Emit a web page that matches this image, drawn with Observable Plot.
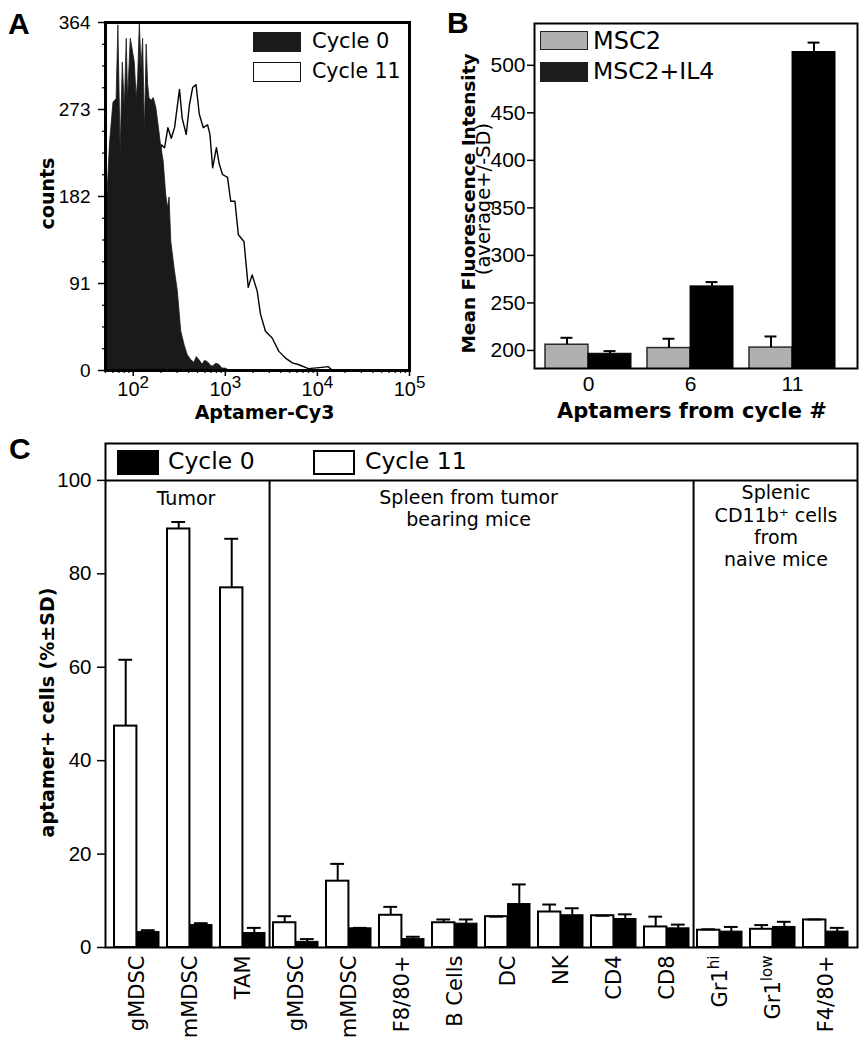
<!DOCTYPE html>
<html><head><meta charset="utf-8">
<script src="https://cdn.jsdelivr.net/npm/d3@7"></script>
<script src="https://cdn.jsdelivr.net/npm/@observablehq/plot@0.6"></script>
<style>
body{margin:0;background:#fff}
#fig{position:relative;width:867px;height:1050px;overflow:hidden;font-family:"DejaVu Sans","Liberation Sans",sans-serif;color:#000;background:#fff}
.letter{position:absolute;font-weight:bold;font-size:30px;line-height:30px;font-family:"Liberation Sans",Arial,sans-serif}
.lt{position:absolute;white-space:nowrap}
.sw{position:absolute;box-sizing:border-box}
</style></head>
<body><div id="fig"></div>
<script>
// ---------------- Panel A: flow histogram ----------------
const histX0 = [50,52,56,61,66,69,73,77,81,85,88,94,98,104,109,113,118,123,128,134,140,145,150,158,167,178,190,202,214,228,238,248,259,281,305,332,360,391,425,461,490,522,567,600,642,700,728,800,859,930,1012,1100];
const histN0 = [215,175,238,280,284,361,228,322,274,347,284,347,337,322,284,305,364,315,347,249,341,300,285,282,285,275,254,233,219,184,170,181,135,107,83,41,27,16,11,8,14,11,6,10,9,5,4,7,6,2,2,0];
const histX11 = [50,66,100,139,178,202,219,238,259,281,318,340,376,408,442,481,522,576,642,681,728,801,859,933,1056,1145,1272,1386,1594,1774,1956,2220,2410,2729,3227,3816,4512,5337,6311,8000,10500,13150,14180,21450];
const histN11 = [10,30,80,140,190,236,233,254,243,254,294,264,247,278,296,299,268,254,257,247,212,233,216,205,202,177,177,142,135,87,100,83,59,41,34,20,13,8,6,2,3,4,1,0];
const countTicksA = [0, 91, 182, 273, 364];
const countMinorA = [22.75,45.5,68.25,113.75,136.5,159.25,204.75,227.5,250.25,295.75,318.5,341.25];
const xMajorA = [100, 1000, 10000, 100000];
const xMinorA = [50,60,70,80,90,200,300,400,500,600,700,800,900,2000,3000,4000,5000,6000,7000,8000,9000,20000,30000,40000,50000,60000,70000,80000,90000];

// ---------------- Panel B: MFI bars ----------------
const cyclesB = ["0", "6", "11"];
const msc2Mean = [206, 202.5, 203];
const msc2SD = [7.3, 9.8, 11.7];
const il4Mean = [196.5, 267.4, 514];
const il4SD = [2.8, 4.5, 9.9];
const yTicksB = [200, 250, 300, 350, 400, 450, 500];

// ---------------- Panel C: aptamer+ cells ----------------
const cellTypes = ["gMDSC","mMDSC","TAM","gMDSC","mMDSC","F8/80+","B Cells","DC","NK","CD4","CD8","Gr1hi","Gr1low","F4/80+"];
const cycle11Pct = [47.4, 89.6, 77.0, 5.3, 14.2, 6.9, 5.3, 6.6, 7.6, 6.8, 4.4, 3.7, 3.9, 5.9];
const cycle11SD  = [14.2, 1.5, 10.5, 1.4, 3.7, 1.8, 0.7, 0.0, 1.6, 0.0, 2.2, 0.2, 0.9, 0.1];
const cycle0Pct  = [3.3, 4.8, 3.1, 1.2, 4.1, 1.8, 5.1, 9.3, 6.9, 6.1, 4.1, 3.4, 4.4, 3.4];
const cycle0SD   = [0.4, 0.4, 1.1, 0.6, 0.1, 0.5, 0.9, 4.2, 1.5, 1.0, 0.8, 1.0, 1.1, 0.8];
const sectionNames = ["Tumor", "Spleen from tumor\nbearing mice", "Splenic\nCD11b\u207A cells\nfrom\nnaive mice"];
const sectionSizes = [3, 8, 3];
const yTicksC = [0, 20, 40, 60, 80, 100];

const fig = document.getElementById("fig");
const SVGNS = "http://www.w3.org/2000/svg";
const NUM = "Liberation Sans, Arial, sans-serif";
const WORD = "DejaVu Sans, Liberation Sans, sans-serif";

function place(el, left, top) {
  el.style.position = "absolute";
  el.style.left = left + "px";
  el.style.top = top + "px";
  fig.appendChild(el);
}
function addText(txt, left, cy, size) {
  const d = document.createElement("div");
  d.className = "lt";
  d.textContent = txt;
  d.style.fontSize = size + "px";
  d.style.lineHeight = size + "px";
  d.style.left = left + "px";
  d.style.top = (cy - size * 0.52) + "px";
  fig.appendChild(d);
}
function addSwatch(left, top, w, h, fill, border) {
  const d = document.createElement("div");
  d.className = "sw";
  Object.assign(d.style, {left: left + "px", top: top + "px", width: w + "px", height: h + "px", background: fill, border: border || "none"});
  fig.appendChild(d);
}
function addLetter(ch, left, top) {
  const d = document.createElement("div");
  d.className = "letter";
  d.textContent = ch;
  d.style.left = left + "px";
  d.style.top = top + "px";
  fig.appendChild(d);
}
function styleTicks(svg, axis, size, family) {
  svg.querySelectorAll(`g[aria-label="${axis}-axis tick label"]`).forEach(g => {
    g.setAttribute("font-size", size);
    g.setAttribute("font-family", family);
    g.querySelectorAll("text").forEach(t => { t.removeAttribute("font-size"); t.style.fontSize = size + "px"; t.style.fontFamily = family; });
  });
}
function supTicks(svg, re, size, dy) {
  svg.querySelectorAll("text").forEach(t => {
    if (t.children.length) return;
    const m = t.textContent.match(re);
    if (!m) return;
    t.textContent = m[1];
    const ts = document.createElementNS(SVGNS, "tspan");
    ts.setAttribute("dy", dy);
    ts.setAttribute("font-size", size);
    ts.style.fontSize = size + "px";
    ts.textContent = m[2];
    t.appendChild(ts);
  });
}

// ===== Panel A =====
const c0 = histX0.map((x, i) => ({x, n: histN0[i]}));
const c11 = histX11.map((x, i) => ({x, n: histN11[i]}));
const plotA = Plot.plot({
  width: 430, height: 425,
  marginLeft: 105, marginRight: 21, marginTop: 22, marginBottom: 55,
  x: {type: "log", domain: [50, 100000]},
  y: {domain: [0, 364]},
  style: {background: "transparent", fontFamily: NUM, fontSize: "19px", color: "black", overflow: "visible"},
  marks: [
    Plot.areaY(c11, {x: "x", y: "n", fill: "white"}),
    Plot.lineY(c11, {x: "x", y: "n", stroke: "black", strokeWidth: 1.4}),
    Plot.areaY(c0, {x: "x", y: "n", fill: "#1a1a1a", stroke: "#1a1a1a", strokeWidth: 0.8}),
    Plot.frame({stroke: "black", strokeWidth: 3}),
    Plot.axisY({ticks: countTicksA, tickSize: 7, tickPadding: 8, strokeWidth: 1.5, label: null}),
    Plot.axisY({ticks: countMinorA, tickSize: 3, strokeWidth: 1.2, tickFormat: () => "", label: null}),
    Plot.axisX({ticks: xMajorA, tickSize: 6, tickPadding: 5, strokeWidth: 1.5, label: null,
      tickFormat: d => "10^" + Math.round(Math.log10(d))}),
    Plot.axisX({ticks: xMinorA, tickSize: 3, strokeWidth: 1.2, tickFormat: () => "", label: null}),
    Plot.text(["counts"], {text: d => d, frameAnchor: "left", textAnchor: "middle", lineAnchor: "middle", dx: -58, dy: -3, rotate: -90, fontWeight: "bold", fontSize: 19, fontFamily: WORD}),
    Plot.text(["Aptamer-Cy3"], {text: d => d, frameAnchor: "bottom", textAnchor: "middle", lineAnchor: "middle", dx: 7, dy: 42.5, fontWeight: "bold", fontSize: 19, fontFamily: WORD})
  ]
});
styleTicks(plotA, "y", 19, NUM);
styleTicks(plotA, "x", 20, NUM);
supTicks(plotA, /^(10)\^(\d)$/, 17, "-0.45em");
place(plotA, 0, 0);

// ===== Panel B =====
const rowsB = cyclesB.map((g, i) => ({g, m: msc2Mean[i], ms: msc2SD[i], l: il4Mean[i], ls: il4SD[i]}));
const bandB = d3.scaleBand().domain(cyclesB).range([104, 427]).paddingInner(0.16).paddingOuter(0.156).align(0.33);
const bwB = bandB.bandwidth();
const plotB = Plot.plot({
  width: 437, height: 425,
  marginLeft: 104, marginRight: 10, marginTop: 23, marginBottom: 57,
  x: {type: "band", domain: cyclesB, paddingInner: 0.16, paddingOuter: 0.156, align: 0.33},
  y: {domain: [181, 544]},
  style: {background: "transparent", fontFamily: NUM, fontSize: "21px", color: "black", overflow: "visible"},
  marks: [
    Plot.barY(rowsB, {x: "g", y: "m", fill: "#b0b0b0", stroke: "#2a2a2a", strokeWidth: 1.5, insetRight: bwB / 2, clip: true}),
    Plot.barY(rowsB, {x: "g", y: "l", fill: "black", stroke: "black", strokeWidth: 1, insetLeft: bwB / 2, clip: true}),
    Plot.ruleX(rowsB, {x: "g", y1: "m", y2: d => d.m + d.ms, dx: -bwB / 4, strokeWidth: 2}),
    Plot.tickY(rowsB, {x: "g", y: d => d.m + d.ms, dx: -bwB / 4, insetLeft: bwB / 2 - 6, insetRight: bwB / 2 - 6, strokeWidth: 2}),
    Plot.ruleX(rowsB, {x: "g", y1: "l", y2: d => d.l + d.ls, dx: bwB / 4, strokeWidth: 2}),
    Plot.tickY(rowsB, {x: "g", y: d => d.l + d.ls, dx: bwB / 4, insetLeft: bwB / 2 - 6, insetRight: bwB / 2 - 6, strokeWidth: 2}),
    Plot.frame({stroke: "black", strokeWidth: 2}),
    Plot.axisY({ticks: yTicksB, tickSize: 7, tickPadding: 2, strokeWidth: 1.5, label: null}),
    Plot.axisX({tickSize: 0, tickPadding: 8, label: null}),
    Plot.text(["Mean Fluorescence Intensity"], {text: d => d, frameAnchor: "left", textAnchor: "middle", lineAnchor: "middle", dx: -65, dy: 7.5, rotate: -90, fontWeight: "bold", fontSize: 18.5, fontFamily: WORD}),
    Plot.text(["(average+/-SD)"], {text: d => d, frameAnchor: "left", textAnchor: "middle", lineAnchor: "middle", dx: -51, dy: 3, rotate: -90, fontSize: 19.5, fontFamily: WORD}),
    Plot.text(["Aptamers from cycle #"], {text: d => d, frameAnchor: "bottom", textAnchor: "middle", lineAnchor: "middle", dx: -4, dy: 42.5, fontWeight: "bold", fontSize: 21, fontFamily: WORD})
  ]
});
styleTicks(plotB, "y", 21, NUM);
styleTicks(plotB, "x", 21, NUM);
place(plotB, 430, 0);

// ===== Panel C =====
const idxC = d3.range(cellTypes.length);
const rowsC = idxC.map(i => ({i, w: cycle11Pct[i], ws: cycle11SD[i], b: cycle0Pct[i], bs: cycle0SD[i]}));
const bandC = d3.scaleBand().domain(idxC).range([105, 857]).paddingInner(0.15).paddingOuter(0.15);
const bwC = bandC.bandwidth(), stepC = bandC.step();
const yTopC = 107.9;
const headerY = yTicksC[yTicksC.length - 1];
const sectionStart = sectionSizes.map((n, k) => d3.sum(sectionSizes.slice(0, k)));
const dividers = sectionStart.slice(1).map(s => s - 1);
const sectionMarks = sectionNames.map((name, k) => {
  const mid = sectionStart[k] + (sectionSizes[k] - 1) / 2;
  const tweak = [-4, -13, 3][k];
  return Plot.text([name], {
    text: d => d, x: () => Math.floor(mid), frameAnchor: "top", textAnchor: "middle",
    dx: (mid - Math.floor(mid)) * stepC + tweak,
    dy: [54, 64, 82][k], lineAnchor: "middle", lineHeight: 1.17,
    fontSize: 19, fontFamily: WORD
  });
});
const plotC = Plot.plot({
  width: 867, height: 620,
  marginLeft: 105, marginRight: 10, marginTop: 13, marginBottom: 103,
  x: {type: "band", domain: idxC, paddingInner: 0.15, paddingOuter: 0.15},
  y: {domain: [0, yTopC]},
  style: {background: "transparent", fontFamily: NUM, fontSize: "20px", color: "black", overflow: "visible"},
  marks: [
    Plot.barY(rowsC, {x: "i", y: "w", fill: "white", stroke: "black", strokeWidth: 2, insetRight: bwC / 2}),
    Plot.barY(rowsC, {x: "i", y: "b", fill: "black", stroke: "black", strokeWidth: 1, insetLeft: bwC / 2}),
    Plot.ruleX(rowsC, {x: "i", y1: "w", y2: d => d.w + d.ws, dx: -bwC / 4, strokeWidth: 2}),
    Plot.tickY(rowsC, {x: "i", y: d => d.w + d.ws, dx: -bwC / 4, insetLeft: bwC / 2 - 7, insetRight: bwC / 2 - 7, strokeWidth: 2}),
    Plot.ruleX(rowsC, {x: "i", y1: "b", y2: d => d.b + d.bs, dx: bwC / 4, strokeWidth: 2}),
    Plot.tickY(rowsC, {x: "i", y: d => d.b + d.bs, dx: bwC / 4, insetLeft: bwC / 2 - 7, insetRight: bwC / 2 - 7, strokeWidth: 2}),
    Plot.ruleY([headerY], {strokeWidth: 2}),
    Plot.ruleX(dividers, {x: d => d, y1: 0, y2: headerY, dx: stepC / 2, strokeWidth: 2}),
    ...sectionMarks,
    Plot.frame({stroke: "black", strokeWidth: 2}),
    Plot.axisY({ticks: yTicksC, tickSize: 8, tickPadding: 6, strokeWidth: 1.5, label: null}),
    Plot.axisX({tickSize: 0, tickPadding: 8, tickRotate: -90, label: null, tickFormat: i => cellTypes[i]}),
    Plot.text(["aptamer+ cells (%\u00B1SD)"], {text: d => d, frameAnchor: "left", textAnchor: "middle", lineAnchor: "middle", dx: -58, dy: 17, rotate: -90, fontWeight: "bold", fontSize: 19, fontFamily: WORD})
  ]
});
styleTicks(plotC, "y", 20.5, NUM);
styleTicks(plotC, "x", 21, WORD);
supTicks(plotC, /^(Gr1)(hi|low)$/, 15, "-0.5em");
place(plotC, 0, 430);

// ===== Legends and panel letters (HTML) =====
addSwatch(253, 32, 48, 20, "#1a1a1a");
addText("Cycle 0", 312, 42, 21);
addSwatch(253, 62, 48, 20, "#fff", "1.5px solid #111");
addText("Cycle 11", 312, 72, 20.5);

addSwatch(540, 31, 48, 19, "#b0b0b0", "1.5px solid #222");
addText("MSC2", 593, 41, 24);
addSwatch(540, 62, 48, 20, "#1e1e1e");
addText("MSC2+IL4", 593, 72, 23.5);

addSwatch(117, 450, 42, 25, "#000");
addText("Cycle 0", 168, 462, 23.5);
addSwatch(313, 450, 42, 25, "#fff", "2px solid #000");
addText("Cycle 11", 365, 462, 23.5);

addLetter("A", 8, 9);
addLetter("B", 447, 8);
addLetter("C", 9, 434);
</script></body></html>
